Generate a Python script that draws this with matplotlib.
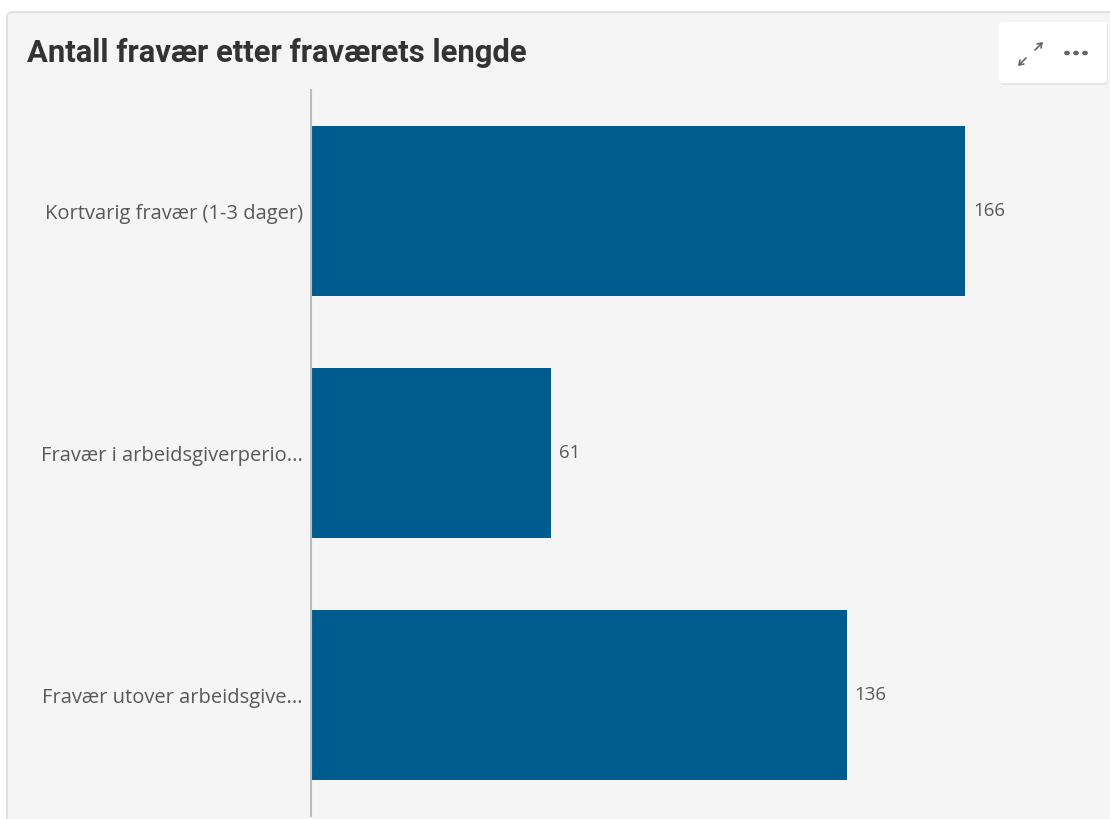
import matplotlib
matplotlib.use("Agg")
import matplotlib.pyplot as plt
from matplotlib.patches import FancyBboxPatch, FancyArrowPatch, Circle

categories = ["Kortvarig fravær (1-3 dager)", "Fravær i arbeidsgiverperio...", "Fravær utover arbeidsgive..."]
values = [166, 61, 136]
title = "Antall fravær etter fraværets lengde"

W, H = 1110, 819
fig = plt.figure(figsize=(W / 100, H / 100), dpi=100)
fig.patch.set_facecolor("white")

# panel background
panel = FancyBboxPatch((7 / W, -20 / H), (W + 20) / W, (H - 12 + 20) / H,
                       boxstyle="round,pad=0,rounding_size=0.006",
                       transform=fig.transFigure, facecolor="#f5f5f5",
                       edgecolor="#dcdcdc", linewidth=1.2, zorder=-5)
fig.patches.append(panel)

# icon box
shadow = FancyBboxPatch((1000 / W, 1 - 85 / H), 108 / W, 62 / H,
                        boxstyle="round,pad=0,rounding_size=0.004",
                        transform=fig.transFigure, facecolor="#e6e6e6",
                        edgecolor="none", zorder=1)
fig.patches.append(shadow)
box = FancyBboxPatch((999 / W, 1 - 83 / H), 108 / W, 61 / H,
                     boxstyle="round,pad=0,rounding_size=0.004",
                     transform=fig.transFigure, facecolor="white",
                     edgecolor="none", zorder=2)
fig.patches.append(box)

fig.text(27 / W, 1 - 53 / H, title, fontsize=22.3, fontweight="bold",
         family="Roboto", color="#333333", va="center", ha="left")

# expand icon
fig.patches.append(FancyArrowPatch(
    (1033 / W, 1 - 52 / H), (1045 / W, 1 - 40 / H), transform=fig.transFigure,
    arrowstyle="->,head_length=3,head_width=2", color="#666666", lw=1.2, zorder=3))
fig.patches.append(FancyArrowPatch(
    (1028 / W, 1 - 56 / H), (1016 / W, 1 - 68 / H), transform=fig.transFigure,
    arrowstyle="->,head_length=3,head_width=2", color="#666666", lw=1.2, zorder=3))
for dx in (1067, 1076, 1085):
    fig.patches.append(Circle((dx / W, 1 - 53 / H), 2.2 / W,
                              transform=fig.transFigure,
                              color="#666666", zorder=3))

ax = fig.add_axes([311 / W, 1 - 816 / H, 788 / W, 726 / H])
ax.set_zorder(5)
ax.set_facecolor("none")
ypos = list(range(len(categories)))
ax.barh(ypos, values, height=0.70, color="#005b8f", zorder=2)
ax.set_xlim(0, 200)
ax.set_ylim(2.5, -0.5)
for s in ["top", "right", "bottom"]:
    ax.spines[s].set_visible(False)
ax.spines["left"].set_color("#bdbdbd")
ax.spines["left"].set_linewidth(1.5)
ax.set_xticks([])
ax.set_yticks(ypos)
ax.set_yticklabels(categories, fontsize=14.5, color="#595959", family="Open Sans")
ax.tick_params(axis="y", length=0, pad=6)
for y, v in zip(ypos, values):
    ax.text(v + 2.0, y, str(v), va="center", ha="left", fontsize=13.5,
            color="#595959", family="Open Sans")

fig.savefig("out.png", dpi=100)
